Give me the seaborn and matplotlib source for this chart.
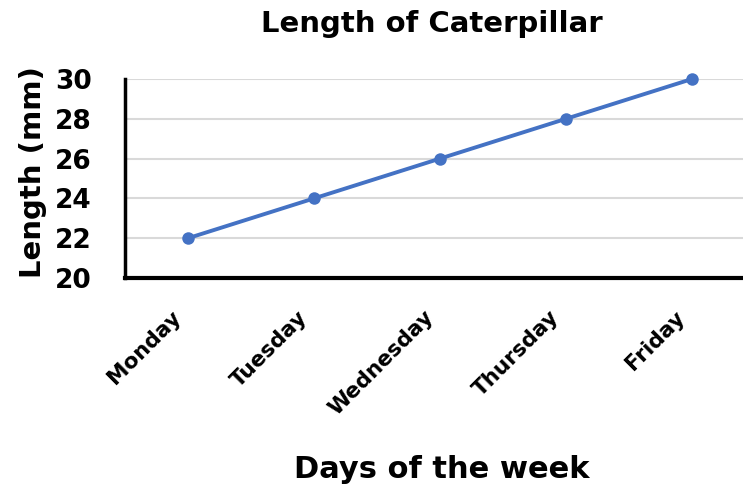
import matplotlib
matplotlib.use('Agg')
import matplotlib.pyplot as plt
import matplotlib.transforms as mtransforms
import seaborn as sns
import pandas as pd

days = ['Monday', 'Tuesday', 'Wednesday', 'Thursday', 'Friday']
length_mm = [22, 24, 26, 28, 30]
y_ticks = [20, 22, 24, 26, 28, 30]

df = pd.DataFrame({'day': days, 'length': length_mm})

sns.set_style('white')
plt.rcParams['font.family'] = ['DejaVu Sans']
plt.rcParams['font.weight'] = 'bold'
plt.rcParams['text.color'] = 'black'
plt.rcParams['xtick.color'] = 'black'
plt.rcParams['ytick.color'] = 'black'

fig = plt.figure(figsize=(7.43, 4.92), dpi=100)
ax = fig.add_axes([125 / 743, (492 - 278) / 492, 630 / 743, (278 - 79) / 492])

sns.lineplot(x='day', y='length', data=df, ax=ax, color='#4472C4',
             linewidth=2.8, marker='o', markersize=9, markeredgewidth=0,
             sort=False, clip_on=False, zorder=3)

ax.set_xlim(-0.5, 4.5)
ax.set_ylim(20, 30)
ax.set_yticks(y_ticks)
ax.yaxis.grid(True, color='#d9d9d9', linewidth=1.5)
ax.set_axisbelow(True)

for side in ['top', 'right']:
    ax.spines[side].set_visible(False)
ax.spines['left'].set_color('black')
ax.spines['left'].set_linewidth(2.5)
ax.spines['bottom'].set_color('black')
ax.spines['bottom'].set_linewidth(3)

ax.tick_params(axis='y', length=0, pad=24, labelsize=19, labelcolor='black')
ax.tick_params(axis='x', length=0, pad=26, labelsize=15.5, labelcolor='black')
for lbl in ax.get_yticklabels():
    lbl.set_fontweight('bold')
shift = mtransforms.ScaledTranslation(-10 / 100, 0, fig.dpi_scale_trans)
for lbl in ax.get_xticklabels():
    lbl.set_rotation(45)
    lbl.set_ha('right')
    lbl.set_va('center')
    lbl.set_rotation_mode('anchor')
    lbl.set_fontweight('bold')
    lbl.set_transform(lbl.get_transform() + shift)

ax.set_xlabel('')
ax.set_ylabel('')
fig.text(432 / 743, 1 - 24 / 492, 'Length of Caterpillar', ha='center', va='center',
         fontsize=21, fontweight='bold')
fig.text(442 / 743, 1 - 470 / 492, 'Days of the week', ha='center', va='center',
         fontsize=22, fontweight='bold')
fig.text(33 / 743, 1 - 172 / 492, 'Length (mm)', ha='center', va='center',
         rotation=90, fontsize=21, fontweight='bold')

fig.savefig('out.png', dpi=100)
